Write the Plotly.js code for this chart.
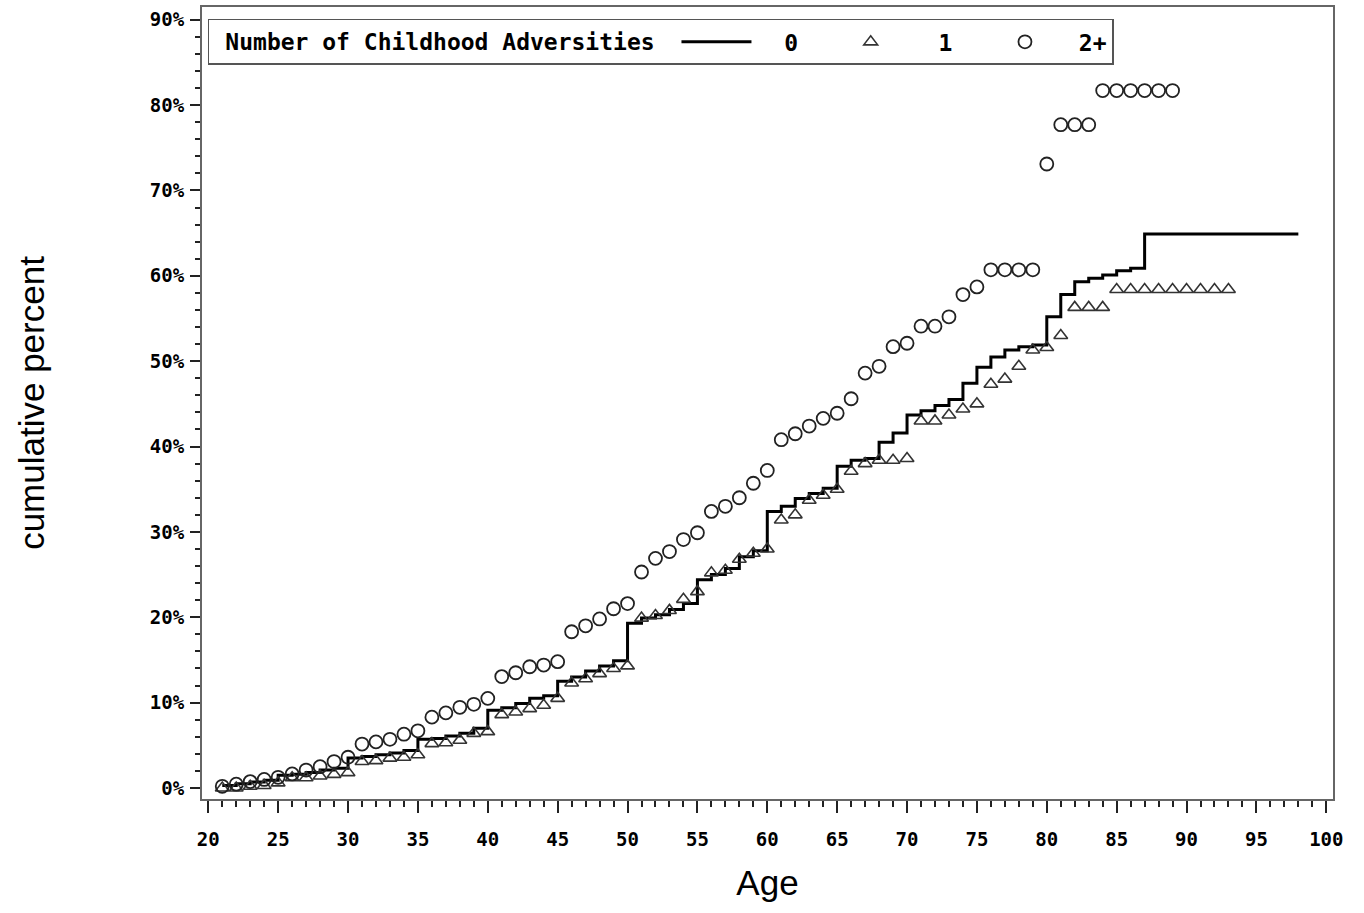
<!DOCTYPE html>
<html>
<head>
<meta charset="utf-8">
<script src="https://cdn.plot.ly/plotly-3.0.1.min.js"></script>
<style>html,body{margin:0;padding:0;background:#fff;}#chart{width:1364px;height:913px;}</style>
</head>
<body>
<div id="chart"></div>
<script>
// Series "0": cumulative percent by age (step line)
const ages0 = [21,22,23,24,25,26,27,28,29,30,31,32,33,34,35,36,37,38,39,40,41,42,43,44,45,46,47,48,49,50,51,52,53,54,55,56,57,58,59,60,61,62,63,64,65,66,67,68,69,70,71,72,73,74,75,76,77,78,79,80,81,82,83,84,85,86,87,98];
const pct0 = [0.3,0.5,0.7,0.9,1.5,1.6,1.8,2.1,2.3,3.5,3.7,3.9,4.1,4.4,5.7,5.8,6.1,6.4,7.0,9.1,9.4,9.9,10.5,10.8,12.5,13.0,13.7,14.3,14.9,19.3,19.9,20.3,20.9,21.6,24.4,25.0,25.7,27.1,27.8,32.4,33.0,33.9,34.5,35.1,37.7,38.4,38.6,40.5,41.6,43.7,44.2,44.8,45.5,47.4,49.3,50.5,51.3,51.7,51.9,55.2,57.8,59.3,59.7,60.1,60.6,60.9,64.9,64.9];

// Series "1": triangles
const ages1 = [21,22,23,24,25,26,27,28,29,30,31,32,33,34,35,36,37,38,39,40,41,42,43,44,45,46,47,48,49,50,51,52,53,54,55,56,57,58,59,60,61,62,63,64,65,66,67,68,69,70,71,72,73,74,75,76,77,78,79,80,81,82,83,84,85,86,87,88,89,90,91,92,93];
const pct1 = [0.0,0.0,0.2,0.3,0.6,1.2,1.2,1.4,1.6,1.8,3.1,3.2,3.5,3.6,3.9,5.2,5.3,5.6,6.4,6.6,8.6,8.9,9.3,9.7,10.5,12.3,12.8,13.4,14.0,14.3,19.9,20.2,20.8,22.1,23.0,25.2,25.5,26.8,27.5,28.0,31.4,32.0,33.7,34.3,35.0,37.1,38.0,38.4,38.4,38.6,43.0,43.0,43.7,44.4,45.0,47.3,47.9,49.4,51.3,51.6,53.0,56.3,56.3,56.3,58.4,58.4,58.4,58.4,58.4,58.4,58.4,58.4,58.4];

// Series "2+": circles
const ages2 = [21,22,23,24,25,26,27,28,29,30,31,32,33,34,35,36,37,38,39,40,41,42,43,44,45,46,47,48,49,50,51,52,53,54,55,56,57,58,59,60,61,62,63,64,65,66,67,68,69,70,71,72,73,74,75,76,77,78,79,80,81,82,83,84,85,86,87,88,89];
const pct2 = [0.2,0.45,0.75,1.0,1.25,1.65,2.1,2.5,3.1,3.6,5.15,5.4,5.7,6.3,6.7,8.3,8.8,9.45,9.8,10.5,13.05,13.5,14.2,14.4,14.8,18.3,19.0,19.8,21.0,21.6,25.3,26.9,27.7,29.1,29.9,32.4,33.0,34.0,35.7,37.2,40.8,41.5,42.4,43.3,43.9,45.6,48.6,49.4,51.7,52.1,54.1,54.1,55.2,57.8,58.7,60.7,60.7,60.7,60.7,73.1,77.7,77.7,77.7,81.7,81.7,81.7,81.7,81.7,81.7];

const NB = '\u00a0';
const seriesNames = [NB + NB + '0' + NB + NB, NB + NB + '1' + NB + NB, NB + '2+'];
const legendTitle = NB + 'Number of Childhood Adversities' + NB;
const xTitle = 'Age';
const yTitle = 'cumulative percent';

const tickFont = {family: 'DejaVu Sans Mono', size: 19, color: '#000', weight: 700};
const legendFont = {family: 'DejaVu Sans Mono', size: 23, color: '#000', weight: 700};

const traces = [
  {x: ages0, y: pct0, name: seriesNames[0], type: 'scatter', mode: 'lines',
   line: {color: '#000', width: 3, shape: 'hv'}},
  {x: ages1, y: pct1, name: seriesNames[1], type: 'scatter', mode: 'markers',
   marker: {symbol: 'triangle-up-open', size: 12, color: '#333', line: {width: 1.6, color: '#333'}}},
  {x: ages2, y: pct2, name: seriesNames[2], type: 'scatter', mode: 'markers',
   marker: {symbol: 'circle-open', size: 13, color: '#222', line: {width: 1.8, color: '#222'}}}
];

const layout = {
  width: 1364, height: 913,
  margin: {l: 202, r: 31, t: 7, b: 114},
  paper_bgcolor: '#fff', plot_bgcolor: '#fff',
  showlegend: true,
  legend: {
    orientation: 'h', x: 0.0053, y: 0.985, xanchor: 'left', yanchor: 'top',
    bordercolor: '#555', borderwidth: 1.5, bgcolor: '#fff',
    itemwidth: 70,
    font: legendFont,
    title: {text: legendTitle, side: 'left', font: legendFont}
  },
  xaxis: {
    range: [19.55, 100.48], tickmode: 'linear', tick0: 20, dtick: 5,
    ticks: 'outside', ticklen: 12, tickwidth: 2, tickcolor: '#222',
    minor: {dtick: 1, ticks: 'outside', ticklen: 6, tickwidth: 2, tickcolor: '#222'},
    showline: true, linecolor: '#666', linewidth: 2, mirror: true,
    showgrid: false, zeroline: false,
    tickfont: tickFont, ticklabelstandoff: 10,
    title: {text: xTitle, font: {family: 'Liberation Sans', size: 35, color: '#000'}, standoff: 22}
  },
  yaxis: {
    range: [-1.29, 91.49], tickmode: 'linear', tick0: 0, dtick: 10, ticksuffix: '%',
    ticks: 'outside', ticklen: 10, tickwidth: 2, tickcolor: '#222',
    minor: {dtick: 2, ticks: 'outside', ticklen: 5, tickwidth: 2, tickcolor: '#222'},
    showline: true, linecolor: '#666', linewidth: 2, mirror: true,
    showgrid: false, zeroline: false,
    tickfont: tickFont, ticklabelstandoff: 2,
    title: {text: yTitle, font: {family: 'Liberation Sans', size: 35, color: '#000'}, standoff: 95}
  }
};

Plotly.newPlot('chart', traces, layout, {displayModeBar: false, staticPlot: true});
</script>
</body>
</html>
